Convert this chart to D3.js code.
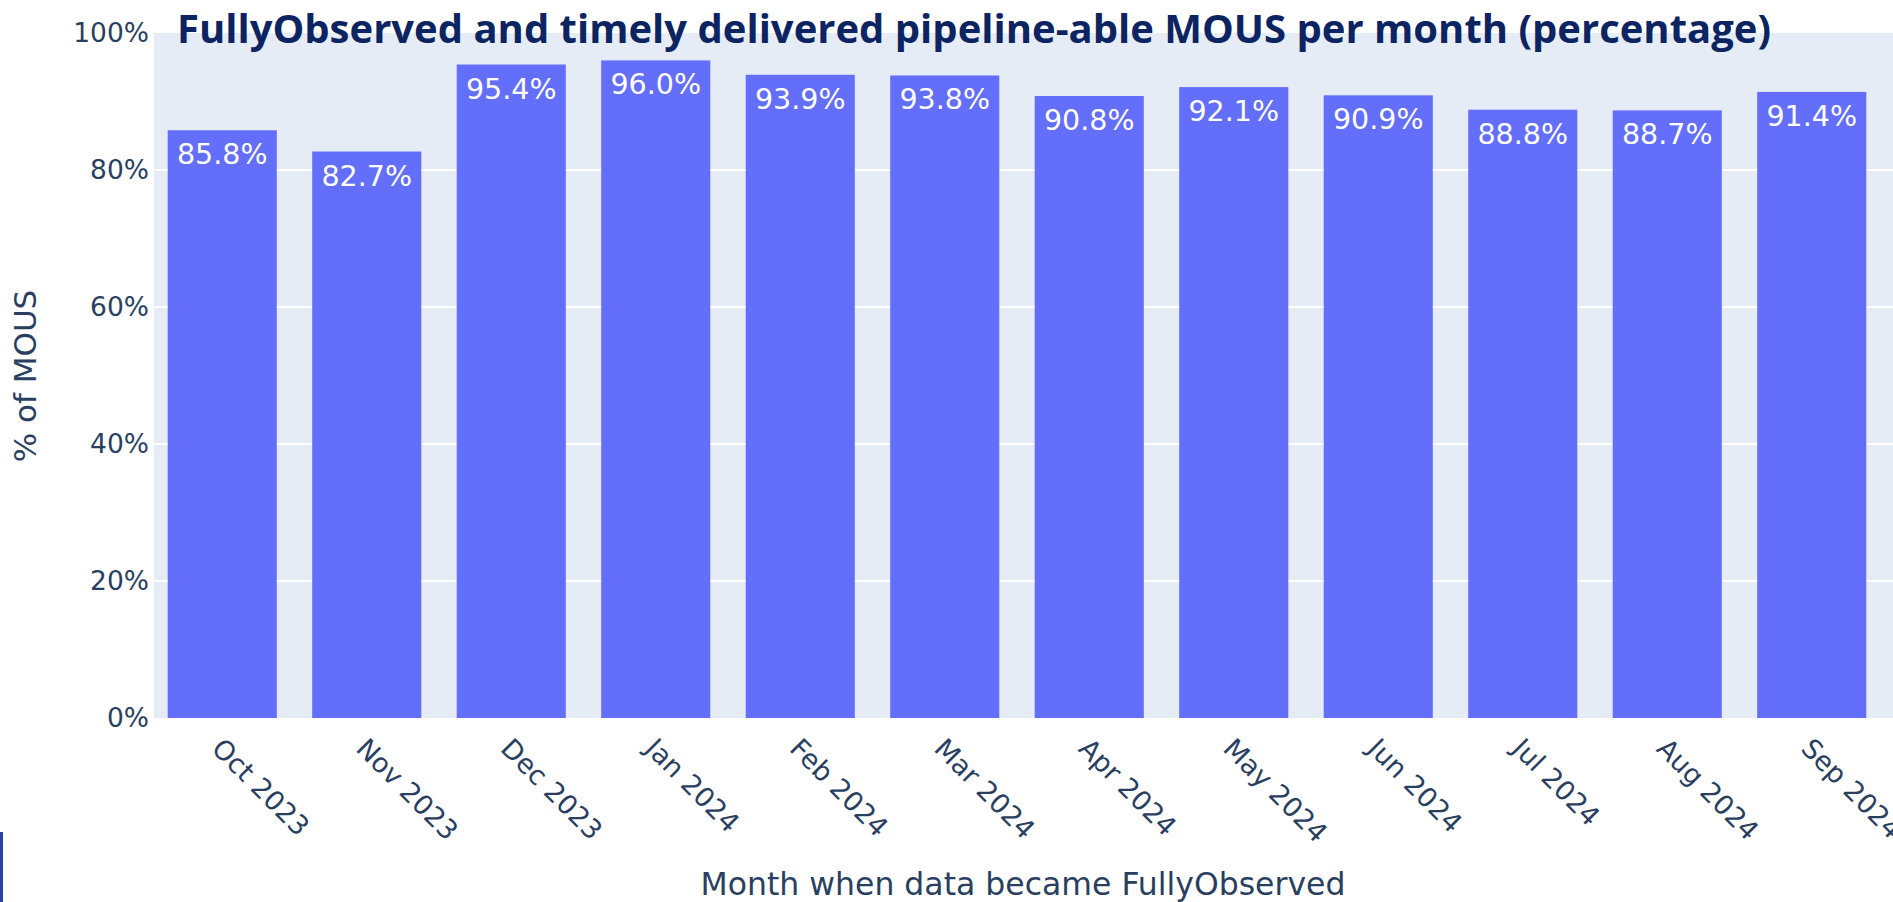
<!DOCTYPE html>
<html>
<head>
<meta charset="utf-8">
<script src="https://cdn.jsdelivr.net/npm/d3@7"></script>
<style>
  html, body { margin: 0; padding: 0; background: #ffffff; }
  svg { display: block; }
</style>
</head>
<body>
<svg id="chart" width="1893" height="902"></svg>
<script>
// Monthly share of pipeline-able MOUS that were FullyObserved and delivered on time
const months = ["Oct 2023", "Nov 2023", "Dec 2023", "Jan 2024", "Feb 2024", "Mar 2024",
                "Apr 2024", "May 2024", "Jun 2024", "Jul 2024", "Aug 2024", "Sep 2024"];
const percentValues = [85.8, 82.7, 95.4, 96.0, 93.9, 93.8, 90.8, 92.1, 90.9, 88.8, 88.7, 91.4];
const yTickValues = [0, 20, 40, 60, 80, 100];

const titleText = "FullyObserved and timely delivered pipeline-able MOUS per month (percentage)";
const xAxisTitle = "Month when data became FullyObserved";
const yAxisTitle = "% of MOUS";

const W = 1893, H = 902;
const plot = { left: 154, right: 1893, top: 33, bottom: 718 };

const svg = d3.select("#chart");
const fontFamily = "'DejaVu Sans', Verdana, sans-serif";
const axisColor = "#2a3f5f";

const x = d3.scaleBand()
  .domain(months)
  .range([150, 1884])
  .paddingInner(0.245)
  .paddingOuter(0.1225);

const y = d3.scaleLinear()
  .domain([0, 100])
  .range([plot.bottom, plot.top]);

// plot background
svg.append("rect")
  .attr("x", plot.left).attr("y", plot.top)
  .attr("width", plot.right - plot.left).attr("height", plot.bottom - plot.top)
  .attr("fill", "#e5ecf6");

// horizontal grid
svg.append("g")
  .selectAll("line")
  .data(yTickValues.filter(v => v > 0 && v < 100))
  .join("line")
  .attr("x1", plot.left).attr("x2", plot.right)
  .attr("y1", d => y(d)).attr("y2", d => y(d))
  .attr("stroke", "#ffffff").attr("stroke-width", 2);

// y axis ticks
const yAxis = d3.axisLeft(y)
  .tickValues(yTickValues)
  .tickFormat(d => d + "%")
  .tickSize(0)
  .tickPadding(5);
const yAxisG = svg.append("g")
  .attr("transform", `translate(${plot.left},0)`)
  .call(yAxis);
yAxisG.select(".domain").remove();
yAxisG.selectAll("text")
  .attr("font-family", fontFamily)
  .attr("font-size", 26.5)
  .attr("fill", axisColor);

// bars
svg.append("g")
  .selectAll("rect")
  .data(percentValues)
  .join("rect")
  .attr("x", (d, i) => x(months[i]))
  .attr("y", d => y(d))
  .attr("width", x.bandwidth())
  .attr("height", d => y(0) - y(d))
  .attr("fill", "#636efa");

// value labels inside the top of each bar
svg.append("g")
  .selectAll("text")
  .data(percentValues)
  .join("text")
  .attr("x", (d, i) => x(months[i]) + x.bandwidth() / 2)
  .attr("y", d => y(d) + 34)
  .attr("text-anchor", "middle")
  .attr("font-family", fontFamily)
  .attr("font-size", 28.5)
  .attr("fill", "#ffffff")
  .text(d => d.toFixed(1) + "%");

// x axis with rotated month labels
const xAxis = d3.axisBottom(x).tickSize(0).tickPadding(0);
const xAxisG = svg.append("g")
  .attr("transform", `translate(0,${plot.bottom})`)
  .call(xAxis);
xAxisG.select(".domain").remove();
xAxisG.selectAll("text")
  .attr("font-family", fontFamily)
  .attr("font-size", 27)
  .attr("fill", axisColor)
  .attr("text-anchor", "start")
  .attr("dy", null)
  .attr("y", 0)
  .attr("transform", "translate(-12,32) rotate(45)");

// axis titles
svg.append("text")
  .attr("x", 1023).attr("y", 895)
  .attr("text-anchor", "middle")
  .attr("font-family", fontFamily)
  .attr("font-size", 31.5)
  .attr("fill", axisColor)
  .text(xAxisTitle);

svg.append("text")
  .attr("transform", "translate(36,376) rotate(-90)")
  .attr("text-anchor", "middle")
  .attr("font-family", fontFamily)
  .attr("font-size", 31)
  .attr("fill", axisColor)
  .text(yAxisTitle);

// chart title
svg.append("text")
  .attr("x", 177).attr("y", 43)
  .attr("font-family", "'Liberation Sans Narrow', 'Open Sans', sans-serif")
  .attr("font-weight", "bold")
  .attr("font-size", 40)
  .attr("textLength", 1594)
  .attr("lengthAdjust", "spacingAndGlyphs")
  .attr("fill", "#0c2461")
  .text(titleText);

// page decoration at the lower left corner
svg.append("rect")
  .attr("x", 0).attr("y", 832)
  .attr("width", 3).attr("height", H - 832)
  .attr("fill", "#2b44a0");
</script>
</body>
</html>
